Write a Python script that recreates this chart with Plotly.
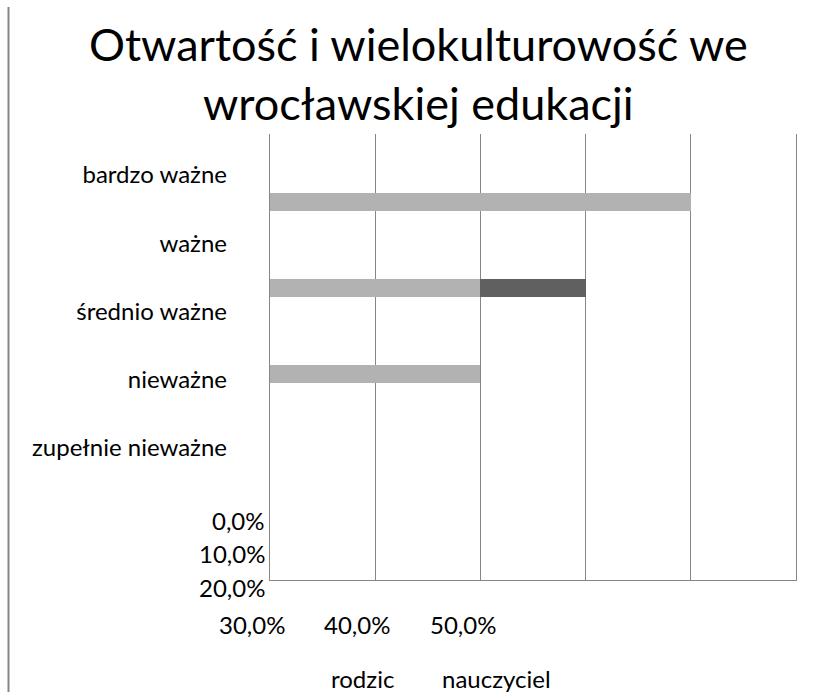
import plotly.graph_objects as go

# ---- data ----
categories = ["bardzo ważne", "ważne", "średnio ważne", "nieważne", "zupełnie nieważne"]
rodzic = [0.4, 0.2, 0.2, 0.0, 0.0]
nauczyciel = [0.0, 0.1, 0.0, 0.0, 0.0]
series_names = ["rodzic", "nauczyciel"]
tick_vals = [0.0, 0.1, 0.2, 0.3, 0.4, 0.5]
tick_text = ["0,0%", "10,0%", "20,0%", "30,0%", "40,0%", "50,0%"]
title_text = "Otwartość i wielokulturowość we<br>wrocławskiej edukacji"

# ---- layout geometry (pixels) ----
W, H = 831, 692
L, R, T, B = 270, 796, 134, 580
PW, PH = R - L, B - T
FONT = "Lato"
GRID = "#868686"


def px_x(px):
    return (px - L) / PW


def px_y(py):
    return (B - py) / PH


fig = go.Figure()
fig.add_trace(go.Bar(y=categories, x=rodzic, orientation="h", name=series_names[0],
                     marker=dict(color="#b2b2b2", line=dict(width=0)), showlegend=False))
fig.add_trace(go.Bar(y=categories, x=nauczyciel, orientation="h", name=series_names[1],
                     marker=dict(color="#606060", line=dict(width=0)), showlegend=False))
# invisible trace carrying the category-label axis
fig.add_trace(go.Scatter(y=categories, x=[0] * len(categories), yaxis="y2", mode="markers",
                         marker=dict(opacity=0), hoverinfo="skip", showlegend=False))

bar_spacing = 86.0
first_bar = 202.0
lab_spacing = 68.25
first_lab = 175.0

fig.update_layout(
    width=W, height=H,
    margin=dict(l=L, r=W - R, t=T, b=H - B, pad=0),
    paper_bgcolor="white", plot_bgcolor="white",
    barmode="stack", bargap=1 - 18 / bar_spacing,
    font=dict(family=FONT, color="#000000", size=24),
    xaxis=dict(range=[0, 0.5], tickvals=tick_vals, showticklabels=False,
               showgrid=True, gridcolor=GRID, gridwidth=1.3, zeroline=False,
               showline=True, linecolor=GRID, linewidth=1.3, ticks=""),
    yaxis=dict(type="category", categoryorder="array", categoryarray=categories,
               range=[(B - first_bar) / bar_spacing, -(first_bar - T) / bar_spacing],
               showticklabels=False, showgrid=False, zeroline=False,
               showline=True, mirror=True, linecolor=GRID, linewidth=1.3, ticks=""),
    yaxis2=dict(type="category", categoryorder="array", categoryarray=categories,
                overlaying="y", side="left", anchor="x",
                range=[(B - first_lab) / lab_spacing, -(first_lab - T) / lab_spacing],
                showgrid=False, zeroline=False, showline=False, ticks="",
                ticklabelstandoff=42, tickfont=dict(family=FONT, size=24, color="#000000")),
)

# title (two lines)
fig.add_annotation(text=title_text, xref="paper", yref="paper", x=px_x(418), y=px_y(15),
                   xanchor="center", yanchor="top", showarrow=False, align="center",
                   font=dict(family=FONT, size=45, color="#000000"))

# misplaced percentage labels, as in the original
stack_y = [520, 553, 587]
for i in range(3):
    fig.add_annotation(text=tick_text[i], xref="paper", yref="paper", x=px_x(267), y=px_y(stack_y[i]),
                       xanchor="right", yanchor="middle", showarrow=False,
                       font=dict(family=FONT, size=24, color="#000000"))
row_x = [252, 357, 463]
for i in range(3):
    fig.add_annotation(text=tick_text[i + 3], xref="paper", yref="paper", x=px_x(row_x[i]), y=px_y(624),
                       xanchor="center", yanchor="middle", showarrow=False,
                       font=dict(family=FONT, size=24, color="#000000"))

# legend texts (no swatches visible in the original)
leg_x = [362, 496]
for name, lx in zip(series_names, leg_x):
    fig.add_annotation(text=name, xref="paper", yref="paper", x=px_x(lx), y=px_y(678),
                       xanchor="center", yanchor="middle", showarrow=False,
                       font=dict(family=FONT, size=24, color="#000000"))

# chart-area border visible on the left
fig.add_shape(type="line", xref="paper", yref="paper", x0=px_x(8.5), x1=px_x(8.5),
              y0=px_y(7), y1=px_y(H + 2), line=dict(color=GRID, width=2))

fig.write_html("out.html", config={"displayModeBar": False},
               post_script="document.body.style.margin='0px';")
